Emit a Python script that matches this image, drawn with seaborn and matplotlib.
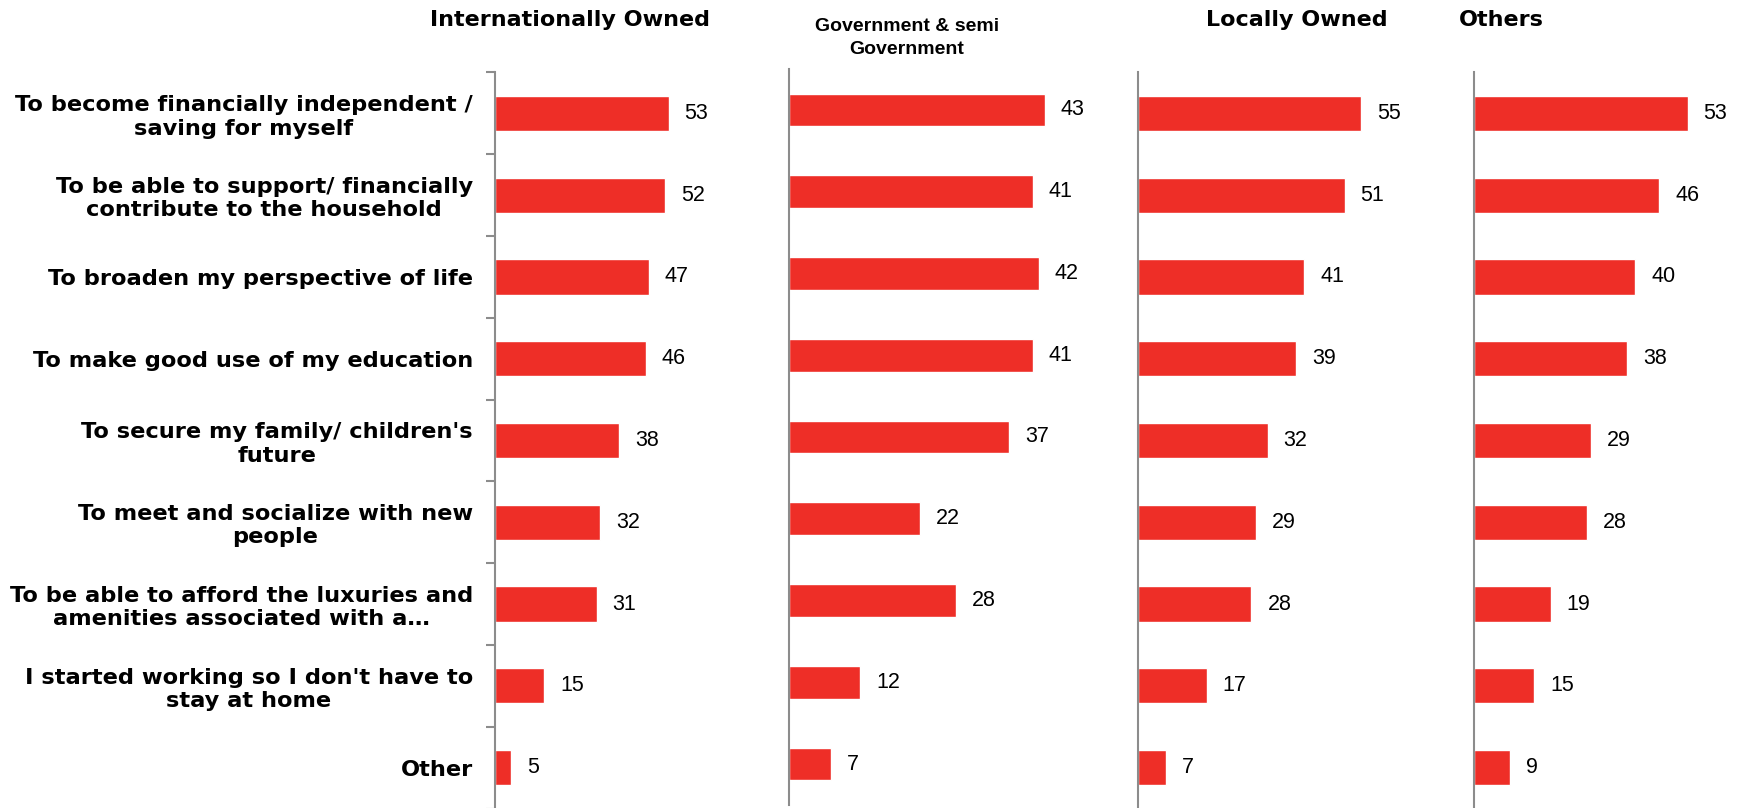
import pandas as pd
import numpy as np
import matplotlib
matplotlib.use("Agg")
import matplotlib.pyplot as plt
import seaborn as sns

# dados
categorias = [
    "To become financially independent /\nsaving for myself",
    "To be able to support/ financially\ncontribute to the household",
    "To broaden my perspective of life",
    "To make good use of my education",
    "To secure my family/ children's\nfuture",
    "To meet and socialize with new\npeople",
    "To be able to afford the luxuries and\namenities associated with a…",
    "I started working so I don't have to\nstay at home",
    "Other",
]
paineis = ["Internationally Owned", "Government & semi\nGovernment", "Locally Owned", "Others"]
intl_owned = [53, 52, 47, 46, 38, 32, 31, 15, 5]
gov_semi = [43, 41, 42, 41, 37, 22, 28, 12, 7]
local_owned = [55, 51, 41, 39, 32, 29, 28, 17, 7]
others = [53, 46, 40, 38, 29, 28, 19, 15, 9]
series = [intl_owned, gov_semi, local_owned, others]

sns.set_style("white")
plt.rcParams['font.family'] = ['Liberation Sans', 'DejaVu Sans']
plt.rcParams['text.color'] = 'black'

W, H = 1752, 808
fig = plt.figure(figsize=(W / 100, H / 100), dpi=100)

# posição dos eixos em pixels: (esquerda, largura, xmax, base, espessura da barra)
layout = [(495, 285, 87, -0.5, 0.43), (789, 341, 57.3, 3, 0.40),
          (1138, 327, 80.7, -0.5, 0.43), (1474, 278, 69, -0.5, 0.43)]
vermelho = "#EE2E27"
cinza = "#8C8C8C"
fonte_larga = ['DejaVu Sans']

for i, (vals, (left, width, xmax, base, esp)) in enumerate(zip(series, layout)):
    ax = fig.add_axes([left / W, base / H, width / W, 736 / H])
    df = pd.DataFrame({"motivo": categorias, "valor": vals})
    sns.barplot(data=df, x="valor", y="motivo", ax=ax, color=vermelho,
                width=esp, saturation=1, orient="h")
    ax.set_xlim(0, xmax)
    ax.set_ylim(8.5, -0.5)
    ax.set_xlabel("")
    ax.set_ylabel("")
    ax.set_xticks([])
    for s in ["top", "right", "bottom"]:
        ax.spines[s].set_visible(False)
    ax.spines["left"].set_color(cinza)
    ax.spines["left"].set_linewidth(1.5)
    for cont in ax.containers:
        ax.bar_label(cont, fmt="%d", padding=11.5, fontsize=15.5, color="black")
    if i == 0:
        ax.set_yticks(np.arange(len(categorias)))
        ax.set_yticklabels(categorias, fontsize=16.2, fontweight="bold",
                           multialignment="center", family=fonte_larga, color="black")
        ax.tick_params(axis="y", which="major", left=True, length=0, pad=16)
        # marcas entre categorias
        ax.set_yticks(np.arange(-0.5, len(categorias)), minor=True)
        ax.tick_params(axis="y", which="minor", left=True, length=6.5, width=1.5,
                       color=cinza, direction="out")
    else:
        ax.set_yticks([])

# títulos dos painéis
fig.text(570, H - 20, paineis[0], ha="center", va="center", fontsize=16, fontweight="bold",
         family=fonte_larga, transform=None)
fig.text(907, H - 38, paineis[1], ha="center", va="center", fontsize=14, fontweight="bold",
         transform=None, linespacing=1.5)
fig.text(1297, H - 20, paineis[2], ha="center", va="center", fontsize=16, fontweight="bold",
         family=fonte_larga, transform=None)
fig.text(1501, H - 20, paineis[3], ha="center", va="center", fontsize=16, fontweight="bold",
         family=fonte_larga, transform=None)

fig.savefig("out.png", dpi=100)
